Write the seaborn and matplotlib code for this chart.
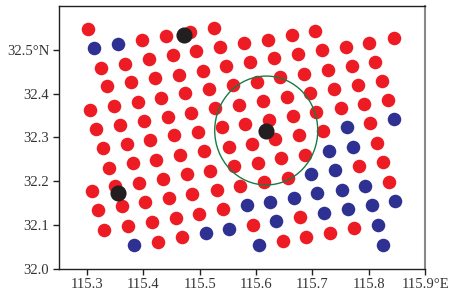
import matplotlib
matplotlib.use("Agg")
import matplotlib.pyplot as plt
from matplotlib.patches import Ellipse
import seaborn as sns
import pandas as pd

red_lon = [115.302, 115.398, 115.440, 115.483, 115.525, 115.579, 115.621, 115.663, 115.705, 115.759,
           115.801, 115.844, 115.325, 115.367, 115.409, 115.452, 115.494, 115.536, 115.590, 115.632,
           115.674, 115.717, 115.770, 115.812, 115.336, 115.378, 115.420, 115.463, 115.505, 115.546,
           115.559, 115.601, 115.643, 115.685, 115.728, 115.739, 115.781, 115.823, 115.305, 115.347,
           115.390, 115.432, 115.474, 115.516, 115.570, 115.612, 115.654, 115.696, 115.750, 115.792,
           115.834, 115.316, 115.359, 115.401, 115.443, 115.485, 115.527, 115.581, 115.623, 115.665,
           115.707, 115.803, 115.539, 115.328, 115.370, 115.412, 115.454, 115.496, 115.551, 115.592,
           115.634, 115.676, 115.718, 115.814, 115.339, 115.382, 115.423, 115.465, 115.508, 115.561,
           115.603, 115.645, 115.687, 115.783, 115.825, 115.308, 115.349, 115.392, 115.434, 115.478,
           115.519, 115.572, 115.614, 115.656, 115.836, 115.319, 115.361, 115.403, 115.445, 115.487,
           115.530, 115.542, 115.499, 115.457, 115.415, 115.373, 115.330, 115.594, 115.678, 115.426,
           115.468, 115.647, 115.689, 115.731, 115.773]
red_lat = [32.547, 32.522, 32.531, 32.542, 32.550, 32.516, 32.524, 32.534, 32.543, 32.508,
           32.517, 32.527, 32.459, 32.469, 32.479, 32.488, 32.498, 32.506, 32.472, 32.481,
           32.490, 32.499, 32.464, 32.473, 32.417, 32.426, 32.435, 32.444, 32.453, 32.463,
           32.420, 32.428, 32.438, 32.446, 32.455, 32.412, 32.421, 32.430, 32.364, 32.373,
           32.382, 32.391, 32.401, 32.410, 32.375, 32.384, 32.393, 32.402, 32.368, 32.377,
           32.386, 32.320, 32.329, 32.338, 32.348, 32.357, 32.367, 32.332, 32.341, 32.350,
           32.359, 32.334, 32.324, 32.277, 32.284, 32.295, 32.305, 32.313, 32.278, 32.286,
           32.296, 32.306, 32.315, 32.288, 32.231, 32.241, 32.249, 32.260, 32.268, 32.235,
           32.242, 32.252, 32.261, 32.235, 32.243, 32.178, 32.189, 32.197, 32.205, 32.216,
           32.224, 32.190, 32.199, 32.208, 32.199, 32.134, 32.143, 32.153, 32.161, 32.171,
           32.180, 32.136, 32.126, 32.116, 32.107, 32.098, 32.089, 32.100, 32.118, 32.062,
           32.073, 32.064, 32.073, 32.082, 32.092]

blue_lon = [115.313, 115.355, 115.761, 115.844, 115.730, 115.772, 115.698, 115.740, 115.583, 115.625,
            115.667, 115.709, 115.752, 115.793, 115.846, 115.805, 115.763, 115.720, 115.636, 115.552,
            115.511, 115.384, 115.605, 115.816, 115.826]
blue_lat = [32.505, 32.513, 32.323, 32.342, 32.270, 32.279, 32.217, 32.226, 32.145, 32.153,
            32.162, 32.172, 32.180, 32.189, 32.155, 32.146, 32.136, 32.127, 32.109, 32.090,
            32.082, 32.054, 32.054, 32.101, 32.054]

black_lon = [115.472, 115.618, 115.354]
black_lat = [32.534, 32.314, 32.174]

circle_center = (115.618, 32.316)
circle_width = 0.183   # degrees lon
circle_height = 0.249  # degrees lat

x_ticks = [115.3, 115.4, 115.5, 115.6, 115.7, 115.8, 115.9]
x_labels = ["115.3", "115.4", "115.5", "115.6", "115.7", "115.8", "115.9°E"]
y_ticks = [32.0, 32.1, 32.2, 32.3, 32.4, 32.5]
y_labels = ["32.0", "32.1", "32.2", "32.3", "32.4", "32.5°N"]

sns.set_theme(style="white")
plt.rcParams['font.family'] = ['Liberation Serif', 'DejaVu Serif']

fig = plt.figure(figsize=(4.61, 2.95), dpi=100)
ax = fig.add_axes([0.128, 0.0892, 0.794, 0.8894])

red_df = pd.DataFrame({"lon": red_lon, "lat": red_lat})
blue_df = pd.DataFrame({"lon": blue_lon, "lat": blue_lat})
black_df = pd.DataFrame({"lon": black_lon, "lat": black_lat})

sns.scatterplot(data=red_df, x="lon", y="lat", color="#ED1C24", s=95, linewidth=0, ax=ax, zorder=3)
sns.scatterplot(data=blue_df, x="lon", y="lat", color="#2E3192", s=95, linewidth=0, ax=ax, zorder=3)
sns.scatterplot(data=black_df, x="lon", y="lat", color="#231F20", s=135, linewidth=0, ax=ax, zorder=4)

ax.add_patch(Ellipse(circle_center, circle_width, circle_height, fill=False,
                     edgecolor="#1A7A45", linewidth=1.0, zorder=5))

ax.set_xlim(115.25, 115.9)
ax.set_ylim(32.0, 32.6)
ax.set_xticks(x_ticks)
ax.set_xticklabels(x_labels)
ax.set_yticks(y_ticks)
ax.set_yticklabels(y_labels)
ax.set_xlabel("")
ax.set_ylabel("")
ax.tick_params(axis="both", direction="out", length=4, width=1, colors="#231F20",
               labelsize=10.5, labelcolor="#333333", pad=3,
               bottom=True, left=True, top=False, right=False)
for sp in ax.spines.values():
    sp.set_visible(True)
    sp.set_color("#231F20")
    sp.set_linewidth(1.0)
ax.spines["right"].set_color("#888888")
ax.spines["right"].set_linewidth(1.5)
ax.grid(False)

fig.savefig("out.png", dpi=100)
